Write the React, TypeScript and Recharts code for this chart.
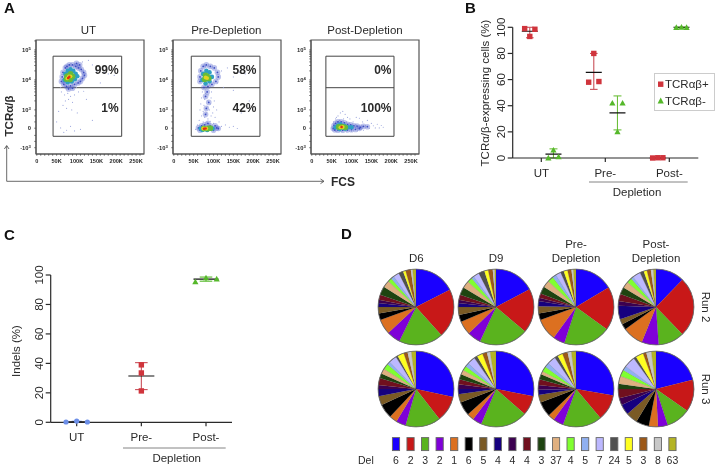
import {
  ScatterChart, Scatter, XAxis, YAxis, ReferenceArea, ReferenceLine, ErrorBar, Legend, PieChart, Pie, Cell,
} from 'recharts';

const FONT = '"Liberation Sans", Arial, sans-serif';
const INK = '#2a2a2a';

type Pt = [number, number];

// panel A: FCS in thousands, TCR in display units where 3 = 10^3, 4 = 10^4, 5 = 10^5
const flowXMajor = [0, 50, 100, 150, 200, 250];
const flowXMinor = [10, 20, 30, 40, 60, 70, 80, 90, 110, 120, 130, 140, 160, 170, 180, 190, 210, 220, 230, 240, 260];
const flowYMajor = [1.74, 2.39, 3, 4, 5];
const flowYMinor = [1.95, 2.15, 2.6, 2.8, 3.3, 3.48, 3.6, 3.7, 3.78, 3.85, 3.9, 3.95, 4.3, 4.48, 4.6, 4.7, 4.78, 4.85, 4.9, 4.95, 5.3];
const flowYNames = ['-10', '0', '10', '10', '10'];
const flowYPowers = ['3', '', '3', '4', '5'];

const utSparse: Pt[] = [[62,3.6],[70,3.5],[78,3.55],[85,3.45],[95,3.5],[105,3.6],[118,3.62],[72,3.3],[80,3.35],[90,3.25],[66,3.15],[75,3.05],[88,3.0],[55,2.95],[102,2.9],[125,3.35],[140,2.65],[60,2.4],[68,2.25],[75,2.32],[85,2.45],[95,2.3],[110,2.35],[50,2.6],[150,4.3],[170,4.25],[180,4.2],[140,4.5],[130,4.65],[115,4.6],[160,3.9],[195,4.15],[60,3.75],[74,3.7],[88,3.72],[100,3.75]];
const utBlue: Pt[] = [[62,3.95],[64,4.1],[66,4.25],[68,3.85],[72,4.4],[76,4.45],[82,4.5],[90,4.5],[98,4.45],[105,4.4],[112,4.35],[118,4.25],[120,4.15],[115,4.05],[110,3.95],[104,3.9],[95,3.85],[85,3.8],[75,3.78],[70,3.95],[100,4.55],[108,4.5],[80,3.7],[90,3.72]];
const utCyan: Pt[] = [[70,4.0],[72,4.2],[78,3.92],[78,4.3],[85,4.35],[92,4.3],[98,4.2],[102,4.12],[96,4.02],[88,3.95]];
const utGreen: Pt[] = [[75,4.03],[80,4.13],[85,4.2],[90,4.12],[84,4.02],[76,4.12]];
const utYellow: Pt[] = [[77,4.05],[81,4.12],[85,4.12]];
const utRed: Pt[] = [[79,4.06],[82,4.1]];

const preSparse: Pt[] = [[72,3.6],[80,3.55],[88,3.5],[95,3.6],[70,3.4],[78,3.35],[86,3.3],[94,3.4],[102,3.3],[68,3.2],[76,3.15],[84,3.1],[92,3.2],[100,3.1],[66,3.0],[74,2.95],[82,2.9],[90,3.0],[98,2.9],[108,3.0],[70,2.8],[78,2.75],[86,2.7],[94,2.8],[104,2.75],[64,2.65],[74,2.6],[84,2.6],[92,2.62],[114,2.6],[120,2.45],[130,2.5],[140,2.42],[150,2.45],[160,2.38],[55,2.35],[120,4.3],[135,4.4],[150,4.1],[165,4.25],[180,4.2],[110,3.9],[125,3.75],[150,3.65],[190,3.3],[170,2.9],[60,2.5],[100,2.55]];
const preBlue: Pt[] = [[66,3.95],[66,4.1],[68,4.3],[74,4.45],[82,4.5],[92,4.45],[102,4.4],[110,4.25],[112,4.1],[106,3.95],[96,3.85],[86,3.78],[76,3.75],[84,3.6],[80,3.45],[88,3.25],[82,3.05],[80,2.85],[86,2.55],[78,2.5],[62,2.4],[66,2.32],[100,2.32],[108,2.4],[112,2.38],[104,2.47],[70,2.47],[92,2.47]];
const preCyan: Pt[] = [[72,4.0],[74,4.2],[82,4.3],[90,4.25],[96,4.1],[90,3.95],[80,3.88],[68,2.38],[72,2.33],[84,2.33],[92,2.37],[98,2.38]];
const preGreen: Pt[] = [[78,4.02],[84,4.12],[80,4.15],[88,4.05],[76,2.38],[86,2.38],[92,2.39]];
const preYellow: Pt[] = [[80,4.08],[84,4.06],[74,2.38],[82,2.38]];
const preRed: Pt[] = [[76,2.37],[80,2.38]];

const postSparse: Pt[] = [[55,2.6],[60,2.7],[66,2.8],[72,2.9],[78,2.95],[84,2.85],[90,2.75],[70,2.65],[80,2.7],[96,2.7],[104,2.6],[112,2.75],[120,2.72],[128,2.6],[140,2.65],[150,2.55],[165,2.52],[175,2.48],[180,2.42],[160,2.4],[145,2.38],[130,2.32],[115,2.3],[100,2.28],[88,2.27],[60,2.28],[75,2.28],[50,2.4],[62,2.75],[88,2.6],[135,2.48],[155,2.47],[170,2.4]];
const postBlue: Pt[] = [[54,2.38],[56,2.48],[60,2.55],[66,2.6],[74,2.6],[82,2.57],[90,2.52],[98,2.5],[106,2.47],[114,2.46],[122,2.42],[130,2.45],[120,2.38],[110,2.35],[100,2.34],[90,2.33],[78,2.32],[66,2.32],[58,2.33],[140,2.44]];
const postCyan: Pt[] = [[60,2.42],[66,2.48],[72,2.52],[82,2.47],[92,2.42],[100,2.42],[84,2.37],[70,2.36]];
const postGreen: Pt[] = [[68,2.43],[76,2.44],[84,2.42]];
const postYellow: Pt[] = [[72,2.42],[78,2.43]];
const postRed: Pt[] = [[75,2.43]];

// panel B
const groupLabels = ['UT', 'Pre-', 'Post-'];
const percentTicks = [0, 20, 40, 60, 80, 100];
const bRed = [
  { x: 0.74, y: 99 }, { x: 0.9, y: 98.5 }, { x: 0.82, y: 93 },
  { x: 1.82, y: 80 }, { x: 1.74, y: 58 }, { x: 1.9, y: 58.5 },
  { x: 2.74, y: 0 }, { x: 2.82, y: 0.2 }, { x: 2.9, y: 0.2 },
];
const bGreen = [
  { x: 1.11, y: 0 }, { x: 1.19, y: 6 }, { x: 1.27, y: 0.8 },
  { x: 2.11, y: 42 }, { x: 2.19, y: 20 }, { x: 2.27, y: 42 },
  { x: 3.11, y: 99.8 }, { x: 3.19, y: 100 }, { x: 3.27, y: 99.8 },
];
const bRedMeans = [
  { x: 0.82, y: 97, err: [5, 3] },
  { x: 1.82, y: 65.5, err: [13, 14.5] },
  { x: 2.82, y: 0, err: [0, 0] },
];
const bGreenMeans = [
  { x: 1.19, y: 3, err: [3, 4] },
  { x: 2.19, y: 34.5, err: [13, 13] },
  { x: 3.19, y: 100, err: [0, 0] },
];
const legendNames = ['TCRαβ+', 'TCRαβ-'];

// panel C
const cBlue = [{ x: 0.835, y: 0.2 }, { x: 1, y: 0.8 }, { x: 1.165, y: 0.2 }];
const cRed = [{ x: 2, y: 39 }, { x: 2, y: 33.5 }, { x: 2, y: 21.3 }];
const cGreen = [{ x: 2.835, y: 95.3 }, { x: 3, y: 98 }, { x: 3.165, y: 97.3 }];
const cBlueMean = [{ x: 1, y: 0.4, err: [0.3, 0.3] }];
const cRedMean = [{ x: 2, y: 31.4, err: [9.2, 9.1] }];
const cGreenMean = [{ x: 3, y: 97.2, err: [1.4, 1.4] }];

// panel D
const delNames = ['6', '2', '3', '2', '1', '6', '5', '4', '4', '4', '3', '37', '4', '5', '7', '24', '5', '3', '8', '63'];
const delColors = ['#1a00ff', '#c81818', '#5ab31e', '#7f00d8', '#dc7020', '#000000', '#7a5a25', '#16007f', '#3c0050', '#70101e', '#1e4410', '#e0b080', '#80ff30', '#90b0f0', '#bcb8ff', '#505050', '#ffff20', '#9c5818', '#c8c8c8', '#b4b424'];
const run2D6 = [63, 75, 68, 21, 23, 10, 10, 6, 5, 8, 13, 11, 6, 5, 9, 7, 4, 8, 3, 5];
const run2D9 = [62, 68, 75, 21, 21, 11, 12, 6, 5, 8, 12, 11, 8, 4, 9, 9, 6, 7, 3, 2];
const run2Pre = [59, 67, 72, 18, 34, 10, 11, 8, 5, 7, 11, 11, 9, 6, 8, 5, 6, 6, 3, 4];
const run2Post = [44, 92, 40, 26, 32, 9, 8, 21, 7, 11, 11, 10, 8, 4, 12, 6, 5, 6, 4, 4];
const run3D6 = [102, 40, 54, 15, 12, 22, 14, 11, 6, 11, 7, 8, 9, 5, 12, 3, 10, 6, 6, 7];
const run3D9 = [101, 30, 72, 14, 11, 21, 13, 8, 7, 8, 8, 7, 7, 6, 12, 5, 9, 7, 5, 9];
const run3Pre = [100, 40, 60, 16, 10, 23, 12, 8, 7, 9, 8, 5, 8, 7, 13, 5, 8, 8, 6, 7];
const run3Post = [76, 49, 37, 15, 14, 20, 18, 16, 11, 14, 8, 12, 10, 7, 17, 4, 12, 5, 8, 7];

const dot = (r: number, fill: string, opacity = 1) => (p: any) => (
  <circle cx={p.cx} cy={p.cy} r={r} fill={fill} opacity={opacity} />
);
const square = (fill: string) => (p: any) => <rect x={p.cx - 2.7} y={p.cy - 2.7} width={5.4} height={5.4} fill={fill} />;
const triangle = (fill: string) => (p: any) => (
  <polygon points={`${p.cx},${p.cy - 3.2} ${p.cx + 3.1},${p.cy + 2.4} ${p.cx - 3.1},${p.cy + 2.4}`} fill={fill} />
);
const meanBar = (half: number) => (p: any) => (
  <line x1={p.cx - half} x2={p.cx + half} y1={p.cy} y2={p.cy} stroke="#111" strokeWidth={1.1} />
);
const toPts = (rows: Pt[]) => rows.map(([x, y]) => ({ x, y }));

function FlowXTick({ x, y, payload }: any) {
  if (!flowXMajor.includes(payload.value)) return null;
  return (
    <text x={x} y={y + 5} textAnchor="middle" fontFamily={FONT} fontSize={5.6} fontWeight="bold" fill={INK}>
      {payload.value === 0 ? '0' : `${payload.value}K`}
    </text>
  );
}

function FlowYTick({ x, y, payload }: any) {
  const i = flowYMajor.indexOf(payload.value);
  if (i < 0) return null;
  return (
    <text x={x - 1.5} y={y + 2} textAnchor="end" fontFamily={FONT} fontSize={5.8} fontWeight="bold" fill={INK}>
      {flowYNames[i]}
      {flowYPowers[i] && <tspan fontSize={4.2} dy={-2.2}>{flowYPowers[i]}</tspan>}
    </text>
  );
}

function FlowPlot({ left, gateX, sets }: { left: number; gateX: [number, number]; sets: Pt[][] }) {
  const looks = [dot(0.55, '#8e9ad8', 0.85), dot(0.9, '#3f4fc4'), dot(2.3, '#2f9fc4'), dot(2.9, '#66bb3c'), dot(1.9, '#e4d420'), dot(1.3, '#e23010')];
  return (
    <div style={{ position: 'absolute', left: left - 30, top: 38 }}>
      <ScatterChart width={140} height={136} margin={{ top: 2, right: 2, left: 0, bottom: 0 }}>
        <XAxis
          dataKey="x" type="number" domain={[-2, 270]} ticks={[...flowXMajor, ...flowXMinor].sort((a, b) => a - b)}
          height={20} tickSize={1.6} stroke="#555" tick={FlowXTick} interval={0} allowDataOverflow
        />
        <YAxis
          dataKey="y" type="number" domain={[1.53, 5.33]} ticks={[...flowYMajor, ...flowYMinor].sort((a, b) => a - b)}
          width={30} tickSize={1.6} stroke="#555" tick={FlowYTick} interval={0} allowDataOverflow
        />
        <Scatter data={toPts(sets[1])} shape={dot(2.8, '#5a6ad0', 0.4)} isAnimationActive={false} />
        {sets.map((rows, i) => (
          <Scatter key={i} data={toPts(rows)} shape={looks[i]} isAnimationActive={false} />
        ))}
        <ReferenceArea x1={-2} x2={270} y1={1.53} y2={5.33} fill="none" stroke="#555" strokeWidth={1.2} />
        <ReferenceArea x1={gateX[0]} x2={gateX[1]} y1={2.12} y2={4.79} fill="none" stroke="#444" strokeWidth={1} />
        <ReferenceLine segment={[{ x: gateX[0], y: 3.74 }, { x: gateX[1], y: 3.74 }]} stroke="#444" strokeWidth={1} />
      </ScatterChart>
    </div>
  );
}

function PercentTick({ x, y, payload }: any) {
  return (
    <text
      x={x - 0.5} y={y} textAnchor="middle" transform={`rotate(-90 ${x - 0.5} ${y})`}
      fontFamily={FONT} fontSize={11.5} fill={INK}
    >
      {payload.value}
    </text>
  );
}

function GroupTick({ x, y, payload }: any) {
  return (
    <text x={x} y={y + 13} textAnchor="middle" fontFamily={FONT} fontSize={11.5} fill={INK}>
      {groupLabels[payload.value - 1]}
    </text>
  );
}

function BLegend() {
  return (
    <div
      style={{
        position: 'absolute', left: 182, top: 58, width: 61, height: 38, boxSizing: 'border-box',
        border: '1px solid #ccc', background: '#fff', fontFamily: FONT, fontSize: 11.5, color: INK,
      }}
    >
      {legendNames.map((name, i) => (
        <div key={name} style={{ position: 'absolute', left: 0, top: i * 17 + 3, height: 14, lineHeight: '14px', whiteSpace: 'nowrap' }}>
          <svg width={10} height={14} style={{ position: 'absolute', left: 1, top: 0 }}>
            {i === 0
              ? <rect x={2} y={4.5} width={5.4} height={5.4} fill="#d0343c" />
              : <polygon points="4.7,3.6 7.8,9.4 1.6,9.4" fill="#55b82a" />}
          </svg>
          <span style={{ marginLeft: 10 }}>{name}</span>
        </div>
      ))}
    </div>
  );
}

function PanelB() {
  return (
    <div style={{ position: 'absolute', left: 472, top: 15 }}>
      <ScatterChart width={246} height={195} margin={{ top: 12.3, right: 19.7, left: 0, bottom: 28 }}>
        <XAxis
          dataKey="x" type="number" domain={[0.553, 3.453]} ticks={[1, 2, 3]} height={24}
          tickSize={4} stroke={INK} strokeWidth={1.2} tick={GroupTick} allowDataOverflow
        />
        <YAxis
          dataKey="y" type="number" domain={[0, 100]} ticks={percentTicks} width={40.7}
          tickSize={5} stroke={INK} strokeWidth={1.2} tick={PercentTick}
        />
        <Legend layout="vertical" align="center" verticalAlign="middle" content={BLegend} wrapperStyle={{ left: 0, top: 0, width: 0, height: 0 }} />
        <Scatter data={bRedMeans} shape={meanBar(8)} legendType="none" isAnimationActive={false}>
          <ErrorBar dataKey="err" direction="y" width={3.8} stroke="#c9505a" strokeWidth={1.1} isAnimationActive={false} />
        </Scatter>
        <Scatter data={bGreenMeans} shape={meanBar(8)} legendType="none" isAnimationActive={false}>
          <ErrorBar dataKey="err" direction="y" width={4} stroke="#6cbf3a" strokeWidth={1.1} isAnimationActive={false} />
        </Scatter>
        <Scatter data={bRed} shape={square('#d0343c')} isAnimationActive={false} />
        <Scatter data={bGreen} shape={triangle('#55b82a')} isAnimationActive={false} />
      </ScatterChart>
    </div>
  );
}

function PanelC() {
  return (
    <div style={{ position: 'absolute', left: 0, top: 262 }}>
      <ScatterChart width={260} height={205} margin={{ top: 13, right: 28, left: 0, bottom: 20.7 }}>
        <XAxis
          dataKey="x" type="number" domain={[0.598, 3.402]} ticks={[1, 2, 3]} height={24}
          tickSize={4} stroke={INK} strokeWidth={1.2} tick={GroupTick} allowDataOverflow
        />
        <YAxis
          dataKey="y" type="number" domain={[0, 100]} ticks={percentTicks} width={50.7}
          tickSize={5} stroke={INK} strokeWidth={1.2} tick={PercentTick}
        />
        <Scatter data={cBlueMean} shape={meanBar(10)} isAnimationActive={false}>
          <ErrorBar dataKey="err" direction="y" width={5} stroke="#6c8fe8" strokeWidth={1.1} isAnimationActive={false} />
        </Scatter>
        <Scatter data={cRedMean} shape={meanBar(13)} isAnimationActive={false}>
          <ErrorBar dataKey="err" direction="y" width={6.3} stroke="#c9505a" strokeWidth={1.1} isAnimationActive={false} />
        </Scatter>
        <Scatter data={cGreenMean} shape={meanBar(12.5)} isAnimationActive={false}>
          <ErrorBar dataKey="err" direction="y" width={6.3} stroke="#55b82a" strokeWidth={1.1} isAnimationActive={false} />
        </Scatter>
        <Scatter data={cBlue} shape={dot(2.6, '#6c8fe8')} isAnimationActive={false} />
        <Scatter data={cRed} shape={square('#d0343c')} isAnimationActive={false} />
        <Scatter data={cGreen} shape={triangle('#55b82a')} isAnimationActive={false} />
      </ScatterChart>
    </div>
  );
}

function DelPie({ cx, cy, values }: { cx: number; cy: number; values: number[] }) {
  const rows = values.map((value, i) => ({ name: delNames[i], value }));
  return (
    <div style={{ position: 'absolute', left: cx - 40, top: cy - 40 }}>
      <PieChart width={80} height={80} margin={{ top: 0, right: 0, bottom: 0, left: 0 }}>
        <Pie
          data={rows} dataKey="value" cx={40} cy={40} innerRadius={0} outerRadius={38} startAngle={90} endAngle={-270}
          stroke="#333" strokeOpacity={0.45} strokeWidth={0.25} isAnimationActive={false}
        >
          {rows.map((_, i) => <Cell key={i} fill={delColors[i]} />)}
        </Pie>
        <Pie
          data={[{ name: 'rim', value: 1 }]} dataKey="value" cx={40} cy={40} innerRadius={37.5} outerRadius={38.3}
          startAngle={90} endAngle={-270} fill="#666" stroke="none" isAnimationActive={false}
        />
      </PieChart>
    </div>
  );
}

function Annotations() {
  const txt = { fontFamily: FONT, fill: INK } as const;
  const letter = { ...txt, fontSize: 15, fontWeight: 'bold', fill: '#111' } as const;
  const bold = { ...txt, fontSize: 12, fontWeight: 'bold', textAnchor: 'end' } as const;
  const mid = { ...txt, fontSize: 11.5, textAnchor: 'middle' } as const;
  return (
    <svg width={718} height={467} style={{ position: 'absolute', left: 0, top: 0, pointerEvents: 'none' }}>
      <text x={4} y={12.7} {...letter}>A</text>
      <text x={465} y={12.7} {...letter}>B</text>
      <text x={4} y={240} {...letter}>C</text>
      <text x={341} y={239} {...letter}>D</text>

      <text x={88.3} y={33.5} {...mid}>UT</text>
      <text x={226.3} y={33.5} {...mid}>Pre-Depletion</text>
      <text x={365} y={33.5} {...mid}>Post-Depletion</text>

      <text x={118.7} y={73.5} {...bold}>99%</text>
      <text x={118.7} y={111.5} {...bold}>1%</text>
      <text x={256.5} y={73.5} {...bold}>58%</text>
      <text x={256.5} y={111.5} {...bold}>42%</text>
      <text x={391.5} y={73.5} {...bold}>0%</text>
      <text x={391.5} y={111.5} {...bold}>100%</text>

      <text x={12.5} y={116} transform="rotate(-90 12.5 116)" textAnchor="middle" {...txt} fontSize={11.5} fontWeight="bold">TCRα/β</text>
      <polyline points="6.7,146 6.7,181.3 323.5,181.3" fill="none" stroke="#444" strokeWidth={0.8} />
      <polyline points="4.4,149 6.7,145.5 9,149" fill="none" stroke="#444" strokeWidth={0.8} />
      <polyline points="320.5,179 324,181.3 320.5,183.6" fill="none" stroke="#444" strokeWidth={0.8} />
      <text x={331} y={185.5} {...txt} fontSize={12} fontWeight="bold">FCS</text>

      <text x={489} y={93} transform="rotate(-90 489 93)" {...mid}>TCRα/β-expressing cells (%)</text>
      <line x1={589} x2={687.7} y1={182} y2={182} stroke="#777" strokeWidth={0.9} />
      <text x={637} y={196} {...mid}>Depletion</text>

      <text x={20} y={351} transform="rotate(-90 20 351)" {...mid}>Indels (%)</text>
      <line x1={123} x2={225.7} y1={448} y2={448} stroke="#777" strokeWidth={0.9} />
      <text x={176.7} y={462} {...mid}>Depletion</text>

      <text x={416.3} y={262} {...mid}>D6</text>
      <text x={496} y={262} {...mid}>D9</text>
      <text x={576} y={248} {...mid}>Pre-</text>
      <text x={576} y={262} {...mid}>Depletion</text>
      <text x={656} y={248} {...mid}>Post-</text>
      <text x={656} y={262} {...mid}>Depletion</text>
      <text x={702} y={307} transform="rotate(90 702 307)" {...mid}>Run 2</text>
      <text x={702} y={389} transform="rotate(90 702 389)" {...mid}>Run 3</text>

      <text x={358} y={464} {...txt} fontSize={10.5}>Del</text>
      {delNames.map((name, i) => (
        <g key={i}>
          <rect x={396 + i * 14.55 - 3.6} y={437.6} width={7.2} height={13} fill={delColors[i]} stroke="#666" strokeWidth={0.9} />
          <text x={396 + i * 14.55} y={464} textAnchor="middle" {...txt} fontSize={10.5}>{name}</text>
        </g>
      ))}
    </svg>
  );
}

export default function App() {
  return (
    <div style={{ position: 'absolute', left: 0, top: 0, width: 718, height: 467, background: '#fff', overflow: 'hidden', filter: 'blur(0.35px)' }}>
      <FlowPlot left={35.7} gateX={[41, 213.8]} sets={[utSparse, utBlue, utCyan, utGreen, utYellow, utRed]} />
      <FlowPlot left={173} gateX={[44, 217]} sets={[preSparse, preBlue, preCyan, preGreen, preYellow, preRed]} />
      <FlowPlot left={310.7} gateX={[35.5, 207]} sets={[postSparse, postBlue, postCyan, postGreen, postYellow, postRed]} />
      <PanelB />
      <PanelC />
      <DelPie cx={416.3} cy={307.3} values={run2D6} />
      <DelPie cx={496} cy={307.3} values={run2D9} />
      <DelPie cx={576} cy={307.3} values={run2Pre} />
      <DelPie cx={656} cy={307.3} values={run2Post} />
      <DelPie cx={416.3} cy={389.3} values={run3D6} />
      <DelPie cx={496} cy={389.3} values={run3D9} />
      <DelPie cx={576} cy={389.3} values={run3Pre} />
      <DelPie cx={656} cy={389.3} values={run3Post} />
      <Annotations />
    </div>
  );
}
